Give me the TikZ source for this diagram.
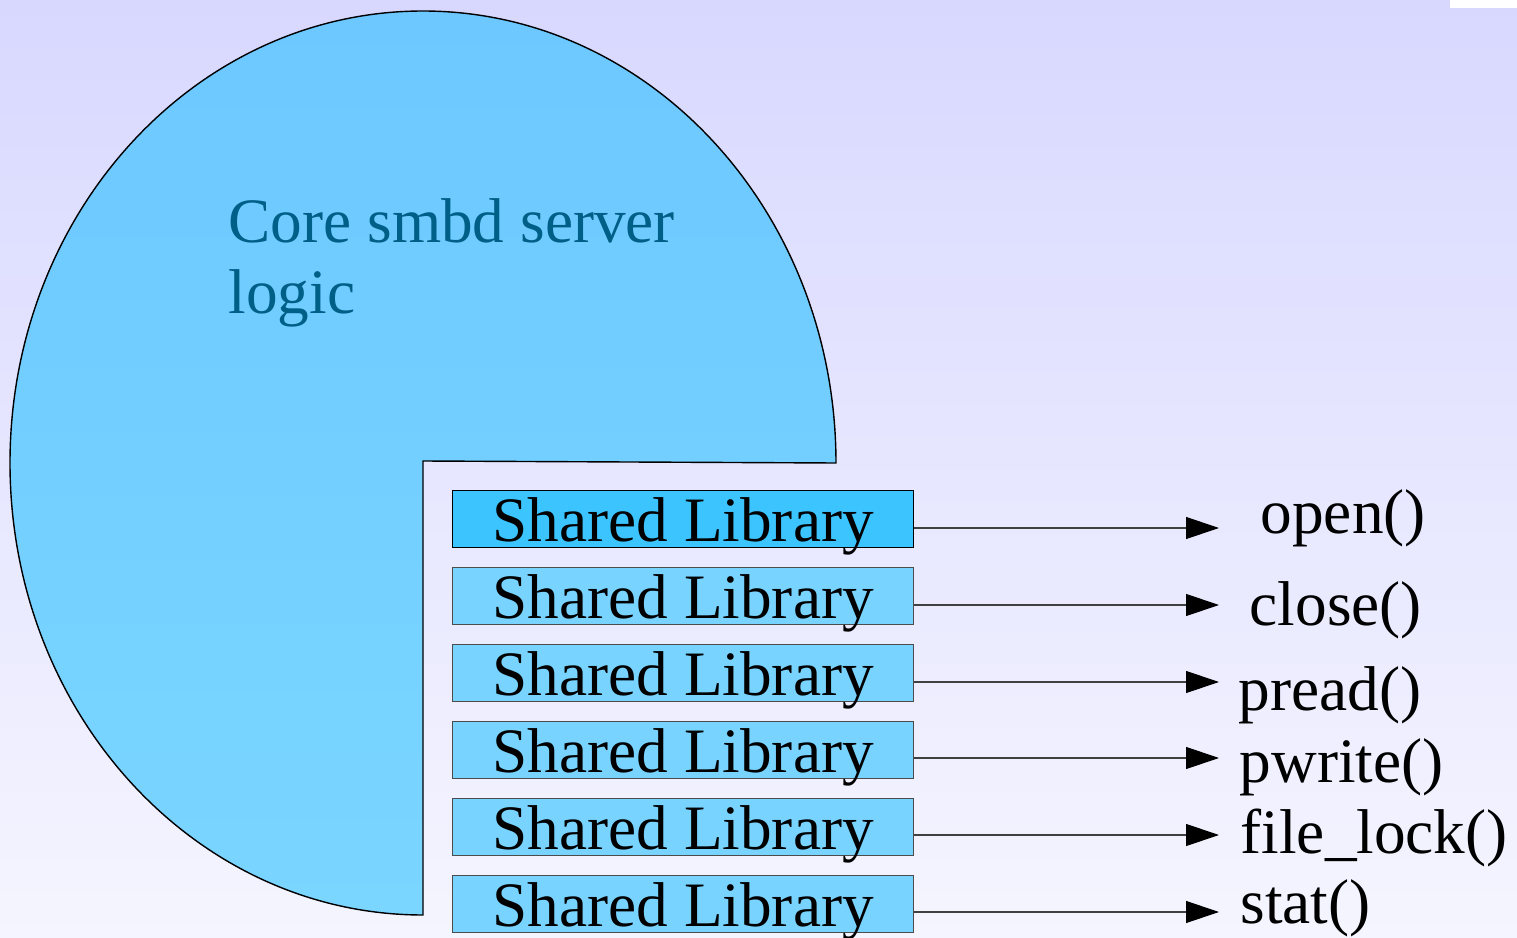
\documentclass[tikz,border=0pt]{standalone}
\usepackage{fontspec}
\setmainfont{Liberation Serif}
\usetikzlibrary{arrows.meta,positioning}

\definecolor{bgtop}{RGB}{216,216,255}
\definecolor{bgbot}{RGB}{245,245,255}
\definecolor{coretop}{RGB}{108,200,255}
\definecolor{corebot}{RGB}{122,214,255}
\definecolor{coretext}{RGB}{0,95,135}
\definecolor{libhi}{RGB}{60,196,255}
\definecolor{libfill}{RGB}{120,212,255}

\begin{document}
\begin{tikzpicture}[
  lib/.style={draw=black!70,line width=0.4pt,fill=libfill,minimum width=4.61cm,minimum height=0.57cm,
    inner sep=0pt,text height=0.51cm,text depth=0.06cm,font=\fontsize{18}{20}\selectfont},
  call/.style={draw=black!75,line width=0.35pt,-{Triangle[length=0.33cm,width=0.22cm,black]}},
  fn/.style={anchor=base west,inner sep=0pt,font=\fontsize{18}{20}\selectfont}]

% page background
\shade[top color=bgtop,bottom color=bgbot] (0,0) rectangle (15.17,-9.38);
\useasboundingbox (0,0) rectangle (15.17,-9.38);
\fill[white] (14.50,0) rectangle (15.17,-0.08);

% smbd core, one quarter cut away
\draw[line width=0.4pt,top color=coretop,bottom color=corebot]
  (8.36,-4.63) arc[start angle=0,end angle=270,x radius=4.13cm,y radius=4.52cm] -- (4.23,-4.61) -- cycle;
\node[anchor=base west,align=left,inner sep=0pt,text=coretext,font=\fontsize{18}{20.1}\selectfont]
  (core) at (2.28,-3.13) {Core smbd server\\logic};

% the vfs modules
\node[lib,draw=black,fill=libhi,anchor=north west] (lib1) at (4.52,-4.90) {Shared Library};
\node[lib,below=0.185cm of lib1] (lib2) {Shared Library};
\node[lib,below=0.185cm of lib2] (lib3) {Shared Library};
\node[lib,below=0.185cm of lib3] (lib4) {Shared Library};
\node[lib,below=0.185cm of lib4] (lib5) {Shared Library};
\node[lib,below=0.185cm of lib5] (lib6) {Shared Library};

% system calls
\coordinate (t1) at (12.19,-5.28);
\coordinate (t2) at (12.19,-6.05);
\coordinate (t3) at (12.19,-6.82);
\coordinate (t4) at (12.19,-7.58);
\coordinate (t5) at (12.19,-8.35);
\coordinate (t6) at (12.19,-9.12);
\draw[call] (lib1.east |- t1) -- (t1);
\draw[call] (lib2.east |- t2) -- (t2);
\draw[call] (lib3.east |- t3) -- (t3);
\draw[call] (lib4.east |- t4) -- (t4);
\draw[call] (lib5.east |- t5) -- (t5);
\draw[call] (lib6.east |- t6) -- (t6);

\node[fn] (open) at (12.60,-5.33) {open()};
\node[fn] (close) at (12.49,-6.25) {close()};
\node[fn] (pread) at (12.38,-7.10) {pread()};
\node[fn] (pwrite) at (12.39,-7.82) {pwrite()};
\node[fn] (flock) at (12.40,-8.53) {file\_lock()};
\node[fn] (stat) at (12.40,-9.23) {stat()};
\end{tikzpicture}
\end{document}
